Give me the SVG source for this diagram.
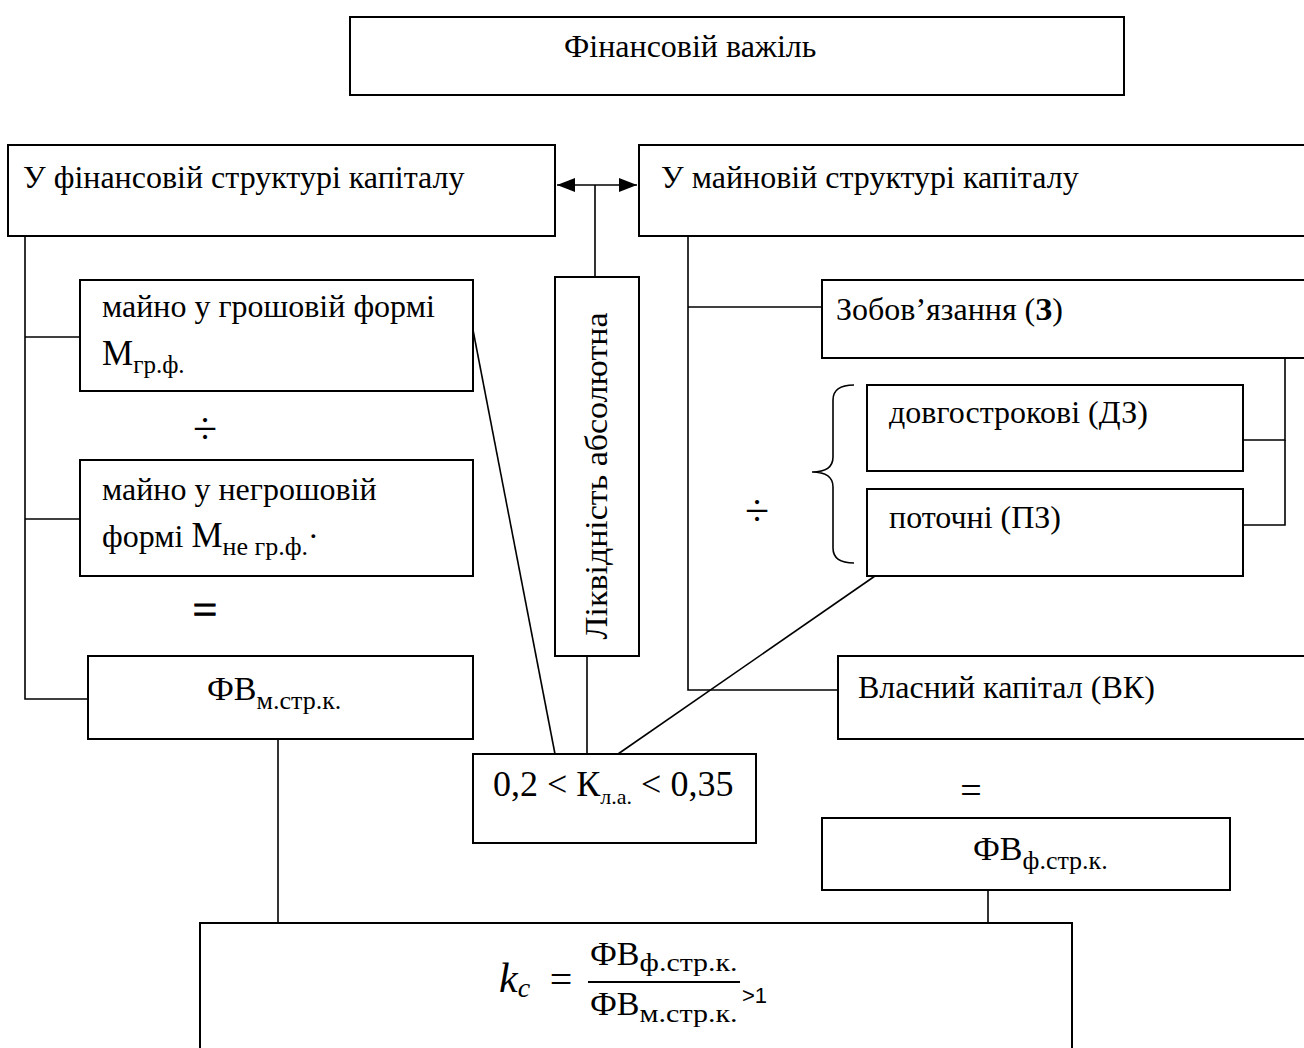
<svg xmlns="http://www.w3.org/2000/svg" width="1304" height="1048" viewBox="0 0 1304 1048">
<style>
.box{fill:#fff;stroke:#000;stroke-width:2}
.t{font-family:"Liberation Serif","Times New Roman",serif;font-size:32px;fill:#000}
.m{font-family:"Liberation Serif","Times New Roman",serif;fill:#000}
.c{fill:none;stroke:#000;stroke-width:1.6}
</style>
<defs>
<marker id="ah" viewBox="0 0 18 14" refX="18" refY="7" markerWidth="18" markerHeight="14" markerUnits="userSpaceOnUse" orient="auto-start-reverse">
<path d="M0,0 L18,7 L0,14 Z" fill="#000"/>
</marker>
</defs>
<rect width="1304" height="1048" fill="#fff"/>
<g id="connectors">
<line class="c" x1="557" y1="185" x2="637" y2="185" marker-start="url(#ah)" marker-end="url(#ah)"/>
<line class="c" x1="595" y1="185" x2="595" y2="277"/>
<line class="c" x1="587" y1="656" x2="587" y2="754"/>
<polyline class="c" points="25,236 25,699 88,699"/>
<line class="c" x1="25" y1="337" x2="80" y2="337"/>
<line class="c" x1="25" y1="519" x2="80" y2="519"/>
<line class="c" x1="278" y1="739" x2="278" y2="923"/>
<line class="c" x1="473" y1="330" x2="555" y2="754"/>
<line class="c" x1="875" y1="576" x2="618" y2="754"/>
<polyline class="c" points="688,236 688,690 838,690"/>
<line class="c" x1="688" y1="307" x2="822" y2="307"/>
<polyline class="c" points="1243,440 1285,440 1285,358"/>
<polyline class="c" points="1243,525 1285,525 1285,440"/>
<line class="c" x1="988" y1="890" x2="988" y2="923"/>
<path class="c" d="M854,385 Q833,385 833,400 L833,457 Q833,472 812,472 Q833,472 833,487 L833,548 Q833,563 854,563"/>
</g>
<g id="n-top">
<rect class="box" x="350" y="17" width="774" height="78"/>
<text class="t" x="564" y="57">Фінансовій важіль</text>
</g>
<g id="n-fin">
<rect class="box" x="8" y="145" width="547" height="91"/>
<text class="t" x="23" y="188">У фінансовій структурі капіталу</text>
</g>
<g id="n-main">
<rect class="box" x="639" y="145" width="680" height="91"/>
<text class="t" x="661" y="188">У майновій структурі капіталу</text>
</g>
<g id="n-liq">
<rect class="box" x="555" y="277" width="84" height="379"/>
<text class="t" transform="translate(607,476) rotate(-90)" text-anchor="middle" font-size="33" textLength="327" lengthAdjust="spacingAndGlyphs">Ліквідність абсолютна</text>
</g>
<g id="n-m1">
<rect class="box" x="80" y="280" width="393" height="111"/>
<text class="t" x="102" y="317">майно у грошовій формі</text>
<text class="m" x="102" y="365" font-size="35">М<tspan font-size="25" dy="8">гр.ф.</tspan></text>
</g>
<text id="div1" class="m" x="205" y="443" font-size="44" text-anchor="middle">÷</text>
<g id="n-m2">
<rect class="box" x="80" y="460" width="393" height="116"/>
<text class="t" x="102" y="500">майно у негрошовій</text>
<text class="t" x="102" y="547">формі <tspan font-size="35">М</tspan><tspan font-size="26" dy="8">не гр.ф.</tspan><tspan dy="-8">·</tspan></text>
</g>
<text id="eq1" class="m" x="205" y="624" font-size="44" text-anchor="middle" stroke="#000" stroke-width="0.8">=</text>
<g id="n-fvm">
<rect class="box" x="88" y="656" width="385" height="83"/>
<text class="m" x="207" y="700" font-size="34">ФВ<tspan font-size="26" dy="9">м.стр.к.</tspan></text>
</g>
<g id="n-k">
<rect class="box" x="473" y="754" width="283" height="89"/>
<text class="m" x="493" y="796" font-size="36">0,2 &lt; К<tspan font-size="22" dy="8">л.а.</tspan><tspan dy="-8"> &lt; 0,35</tspan></text>
</g>
<g id="n-zob">
<rect class="box" x="822" y="280" width="490" height="78"/>
<text class="t" x="836" y="320">Зобов’язання (<tspan font-weight="bold">З</tspan>)</text>
</g>
<g id="n-dz">
<rect class="box" x="867" y="385" width="376" height="86"/>
<text class="t" x="889" y="423">довгострокові (ДЗ)</text>
</g>
<g id="n-pz">
<rect class="box" x="867" y="489" width="376" height="87"/>
<text class="t" x="889" y="528">поточні (ПЗ)</text>
</g>
<text id="div2" class="m" x="757" y="525" font-size="44" text-anchor="middle">÷</text>
<g id="n-vk">
<rect class="box" x="838" y="656" width="480" height="83"/>
<text class="t" x="858" y="698">Власний капітал (ВК)</text>
</g>
<text id="eq2" class="m" x="971" y="803" font-size="38" text-anchor="middle">=</text>
<g id="n-fvf">
<rect class="box" x="822" y="818" width="408" height="72"/>
<text class="m" x="973" y="860" font-size="34">ФВ<tspan font-size="26" dy="9">ф.стр.к.</tspan></text>
</g>
<g id="n-kc">
<rect class="box" x="200" y="923" width="872" height="140"/>
<text class="m" x="499" y="992" font-size="42" font-style="italic">k<tspan font-size="28" dy="5">c</tspan></text>
<text class="m" x="561" y="993" font-size="40" text-anchor="middle">=</text>
<line x1="588" y1="982" x2="740" y2="982" stroke="#000" stroke-width="1.8"/>
<text class="m" x="590" y="965" font-size="34">ФВ<tspan font-size="26" dy="6" textLength="98" lengthAdjust="spacingAndGlyphs">ф.стр.к.</tspan></text>
<text class="m" x="590" y="1015" font-size="34">ФВ<tspan font-size="26" dy="7" textLength="98" lengthAdjust="spacingAndGlyphs">м.стр.к.</tspan></text>
<text x="742" y="1003" font-family="'Liberation Sans',Arial,sans-serif" font-size="22">&gt;1</text>
</g>
</svg>
